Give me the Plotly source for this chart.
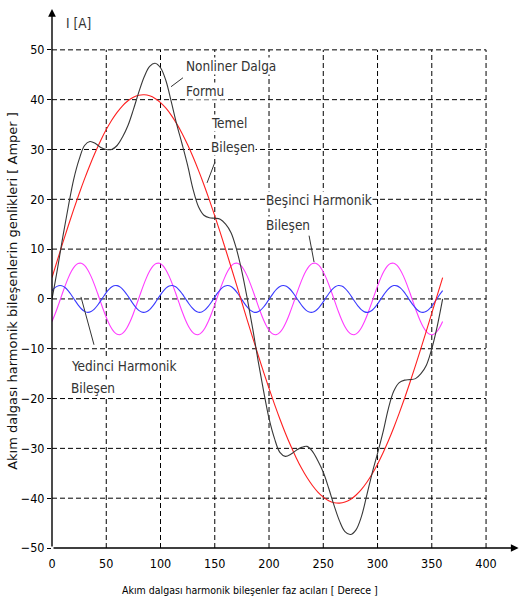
import plotly.graph_objects as go

# ---------------- data ----------------
deg_5 = list(range(0, 361, 5))     # sampling of fundamental / nonlinear wave
deg_3 = list(range(0, 361, 3))     # sampling of harmonics

nonlinear = [0, 6, 12.5, 18.5, 24, 28, 30.8, 31.6, 31.2, 30.4, 30.0, 30.0, 30.8, 32.5, 34.8, 38, 41.5, 44.6,
             46.7, 47.3, 46.4, 43.8, 39.5, 35, 31, 26.8, 22, 18.5, 16.8, 16.3, 16.2, 16.0, 15.0, 13.3, 10, 5.5, 0,
             -6, -12.5, -18.5, -24, -28, -30.8, -31.6, -31.2, -30.4, -29.8, -29.6, -30.6, -32.5, -34.8, -38, -41.5,
             -44.6, -46.7, -47.3, -46.4, -43.8, -39.5, -35, -31, -26.8, -22, -18.5, -16.8, -16.3, -16.2, -16.0,
             -15.0, -13.3, -10, -5.5, 0]

fundamental = [4.29, 7.82, 11.30, 14.69, 17.97, 21.12, 24.10, 26.90, 29.49, 31.86, 33.99, 35.86, 37.45, 38.77,
               39.78, 40.50, 40.90, 40.99, 40.78, 40.25, 39.41, 38.28, 36.85, 35.14, 33.17, 30.94, 28.48, 25.80,
               22.93, 19.88, 16.68, 13.35, 9.92, 6.41, 2.86, -0.72, -4.29,
               -7.82, -11.30, -14.69, -17.97, -21.12, -24.10, -26.90, -29.49, -31.86, -33.99, -35.86, -37.45,
               -38.77, -39.78, -40.50, -40.90, -40.99, -40.78, -40.25, -39.41, -38.28, -36.85, -35.14, -33.17,
               -30.94, -28.48, -25.80, -22.93, -19.88, -16.68, -13.35, -9.92, -6.41, -2.86, 0.72, 4.29]

fifth = [-4.53, -2.93, -1.13, 0.75, 2.58, 4.23, 5.60, 6.58, 7.11, 7.16, 6.72, 5.82, 4.53, 2.93, 1.13, -0.75,
         -2.58, -4.23, -5.60, -6.58, -7.11, -7.16, -6.72, -5.82,
         -4.53, -2.93, -1.13, 0.75, 2.58, 4.23, 5.60, 6.58, 7.11, 7.16, 6.72, 5.82, 4.53, 2.93, 1.13, -0.75,
         -2.58, -4.23, -5.60, -6.58, -7.11, -7.16, -6.72, -5.82,
         -4.53, -2.93, -1.13, 0.75, 2.58, 4.23, 5.60, 6.58, 7.11, 7.16, 6.72, 5.82, 4.53, 2.93, 1.13, -0.75,
         -2.58, -4.23, -5.60, -6.58, -7.11, -7.16, -6.72, -5.82,
         -4.53, -2.93, -1.13, 0.75, 2.58, 4.23, 5.60, 6.58, 7.11, 7.16, 6.72, 5.82, 4.53, 2.93, 1.13, -0.75,
         -2.58, -4.23, -5.60, -6.58, -7.11, -7.16, -6.72, -5.82,
         -4.53, -2.93, -1.13, 0.75, 2.58, 4.23, 5.60, 6.58, 7.11, 7.16, 6.72, 5.82, 4.53, 2.93, 1.13, -0.75,
         -2.58, -4.23, -5.60, -6.58, -7.11, -7.16, -6.72, -5.82,
         -4.53]

seventh = [1.66, 2.31, 2.66, 2.65, 2.29, 1.62, 0.74, -0.24, -1.18, -1.97,
           -2.50, -2.70, -2.54, -2.04, -1.27, -0.33, 0.65, 1.55, 2.24, 2.63,
           2.67, 2.36, 1.74, 0.88, -0.09, -1.05, -1.88, -2.45, -2.69, -2.58,
           -2.13, -1.39, -0.47, 0.52, 1.43, 2.16, 2.60, 2.69, 2.43, 1.84,
           1.01, 0.05, -0.92, -1.77, -2.38, -2.68, -2.62, -2.21, -1.51, -0.61,
           0.38, 1.31, 2.07, 2.55, 2.70, 2.49, 1.94, 1.14, 0.19, -0.79,
           -1.66,
           -2.31, -2.66, -2.65, -2.29, -1.62, -0.74, 0.24, 1.18, 1.97, 2.50,
           2.70, 2.54, 2.04, 1.27, 0.33, -0.65, -1.55, -2.24, -2.63, -2.67,
           -2.36, -1.74, -0.88, 0.09, 1.05, 1.88, 2.45, 2.69, 2.58, 2.13,
           1.39, 0.47, -0.52, -1.43, -2.16, -2.60, -2.69, -2.43, -1.84, -1.01,
           -0.05, 0.92, 1.77, 2.38, 2.68, 2.62, 2.21, 1.51, 0.61, -0.38,
           -1.31, -2.07, -2.55, -2.70, -2.49, -1.94, -1.14, -0.19, 0.79, 1.66]

x_ticks = [0, 50, 100, 150, 200, 250, 300, 350, 400]
x_tick_labels = ["0", "50", "100", "150", "200", "250", "300", "350", "400"]
y_ticks = [-50, -40, -30, -20, -10, 0, 10, 20, 30, 40, 50]
y_tick_labels = ["\u221250", "\u221240", "\u221230", "\u221220", "\u221210", "0", "10", "20", "30", "40", "50"]

# ---------------- styling ----------------
NARROW = "DejaVu Sans Condensed, Liberation Sans Narrow, sans-serif"
WIDE = "DejaVu Sans, sans-serif"
TXT = "#333333"

fig = go.Figure()
fig.add_trace(go.Scatter(x=deg_3, y=fifth, mode="lines", line=dict(color="#ff3cff", width=1.1, shape="spline"),
                         name="Beşinci Harmonik Bileşen"))
fig.add_trace(go.Scatter(x=deg_3, y=seventh, mode="lines", line=dict(color="#3a3aff", width=1.1, shape="spline"),
                         name="Yedinci Harmonik Bileşen"))
fig.add_trace(go.Scatter(x=deg_5, y=fundamental, mode="lines", line=dict(color="#ff2020", width=1.1, shape="spline"),
                         name="Temel Bileşen"))
fig.add_trace(go.Scatter(x=deg_5, y=nonlinear, mode="lines", line=dict(color="#383838", width=1.1, shape="spline"),
                         name="Nonliner Dalga Formu"))

shapes = []
for gx in x_ticks[1:]:
    shapes.append(dict(type="line", xref="x", yref="y", x0=gx, x1=gx, y0=-50, y1=50, layer="below",
                       line=dict(color="black", width=1, dash="5px,3px")))
for gy in y_ticks[1:]:
    shapes.append(dict(type="line", xref="x", yref="y", x0=0, x1=400, y0=gy, y1=gy, layer="below",
                       line=dict(color="black", width=1, dash="5px,3px")))
# leader lines
leaders = [((109.7, 42.6), (120.7, 44.4)),
           ((142.9, 23.3), (150.2, 27.5)),
           ((236.9, 12.7), (241.5, 7.4)),
           ((26.7, 0.4), (38.7, -9.2))]
for (a, b) in leaders:
    shapes.append(dict(type="line", xref="x", yref="y", x0=a[0], y0=a[1], x1=b[0], y1=b[1],
                       line=dict(color=TXT, width=1)))

annotations = []
# axis arrows
annotations.append(dict(x=0, y=58.2, ax=0, ay=-50, xref="x", yref="y", axref="x", ayref="y", text="",
                        showarrow=True, arrowhead=2, arrowsize=1.1, arrowwidth=1.4, arrowcolor="black"))
annotations.append(dict(x=430, y=-50, ax=0, ay=-50, xref="x", yref="y", axref="x", ayref="y", text="",
                        showarrow=True, arrowhead=2, arrowsize=1.1, arrowwidth=1.4, arrowcolor="black"))

labels = [("I [A]", 12, 55.4),
          ("Nonliner Dalga", 122.6, 46.8), ("Formu", 122.6, 41.8),
          ("Temel", 145.6, 35.3), ("Bileşen", 145.6, 30.5),
          ("Beşinci Harmonik", 196.3, 19.9), ("Bileşen", 196.3, 14.9),
          ("Yedinci Harmonik", 16.6, -13.5), ("Bileşen", 16.6, -17.9)]
for t, lx, ly in labels:
    annotations.append(dict(x=lx, y=ly, xref="x", yref="y", text=t, showarrow=False, xanchor="left",
                            yanchor="middle", bgcolor="white", borderpad=0,
                            font=dict(family=NARROW, size=13.5, color=TXT)))

annotations.append(dict(x=0.427, y=-0.078, xref="paper", yref="paper",
                        text="Akım dalgası harmonik bileşenler faz acıları [ Derece ]", showarrow=False,
                        xanchor="center", yanchor="middle", font=dict(family=NARROW, size=10.5, color="black")))
annotations.append(dict(x=-0.084, y=0.478, xref="paper", yref="paper", textangle=-90,
                        text="Akım dalgası harmonik bileşenlerin genlikleri [ Amper ]", showarrow=False,
                        xanchor="center", yanchor="middle", font=dict(family=WIDE, size=13, color="#111111")))

fig.update_layout(
    width=520, height=602,
    margin=dict(l=52, r=4, t=10, b=54),
    paper_bgcolor="white", plot_bgcolor="white",
    showlegend=False,
    shapes=shapes, annotations=annotations,
    xaxis=dict(range=[0, 427.6], tickmode="array", tickvals=x_ticks, ticktext=x_tick_labels,
               showgrid=False, zeroline=False, showline=False, ticks="", automargin=False,
               ticklabelstandoff=6,
               tickfont=dict(family=NARROW, size=12.5, color="black"), fixedrange=True),
    yaxis=dict(range=[-50, 58], tickmode="array", tickvals=y_ticks, ticktext=y_tick_labels,
               showgrid=False, zeroline=False, showline=False, ticks="outside", ticklen=4,
               tickcolor="black", tickwidth=1, automargin=False,
               tickfont=dict(family=NARROW, size=12.5, color="black"), fixedrange=True),
)

fig.write_html("out.html", config={"displayModeBar": False},
               post_script="document.body.style.margin='0px';")
